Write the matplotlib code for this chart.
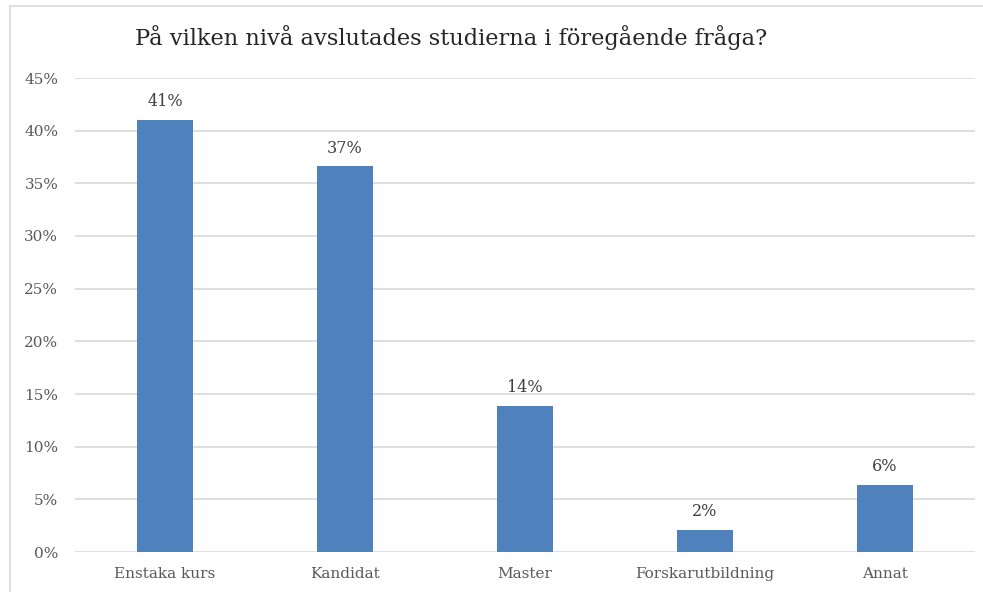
import numpy as np
import matplotlib
matplotlib.use("Agg")
import matplotlib.pyplot as plt
from matplotlib.patches import Rectangle

# data
categories = ["Enstaka kurs", "Kandidat", "Master", "Forskarutbildning", "Annat"]
values = [0.41, 0.366, 0.139, 0.021, 0.064]
labels = ["41%", "37%", "14%", "2%", "6%"]
yticks = [0, 0.05, 0.10, 0.15, 0.20, 0.25, 0.30, 0.35, 0.40, 0.45]
ytick_labels = ["0%", "5%", "10%", "15%", "20%", "25%", "30%", "35%", "40%", "45%"]

plt.rcParams['font.family'] = ['DejaVu Serif']

W, H = 983, 592
fig = plt.figure(figsize=(W / 100, H / 100), dpi=100)

# chart frame
fig.patches.append(Rectangle((10 / W, -0.1), 1.2, 1 - 6 / H + 0.1, transform=fig.transFigure,
                             fill=False, edgecolor="#d9d9d9", linewidth=1.2))

ax = fig.add_axes([75 / W, 1 - 552 / H, 900 / W, (552 - 78) / H])

x = np.arange(len(categories))
ax.bar(x, values, width=0.31, color="#4f81bd", zorder=3)
for xi, v, lab in zip(x, values, labels):
    ax.annotate(lab, (xi, v), xytext=(0, 7), textcoords="offset points",
                ha="center", va="bottom", fontsize=11.5, color="#404040")

ax.set_xlim(-0.5, len(categories) - 0.5)
ax.set_ylim(0, 0.45)
ax.set_yticks(yticks)
ax.set_yticklabels(ytick_labels)
ax.set_xticks(x)
ax.set_xticklabels(categories)
ax.tick_params(axis="both", length=0, labelsize=11, labelcolor="#595959")
ax.tick_params(axis="y", pad=12)
ax.tick_params(axis="x", pad=11)
ax.grid(axis="y", color="#d9d9d9", linewidth=1.2, zorder=0)
for s in ax.spines.values():
    s.set_visible(False)

fig.text(451 / W, 1 - 38 / H, "På vilken nivå avslutades studierna i föregående fråga?",
         ha="center", va="center", fontsize=16.2, color="#262626")

fig.savefig("out.png", dpi=100)
